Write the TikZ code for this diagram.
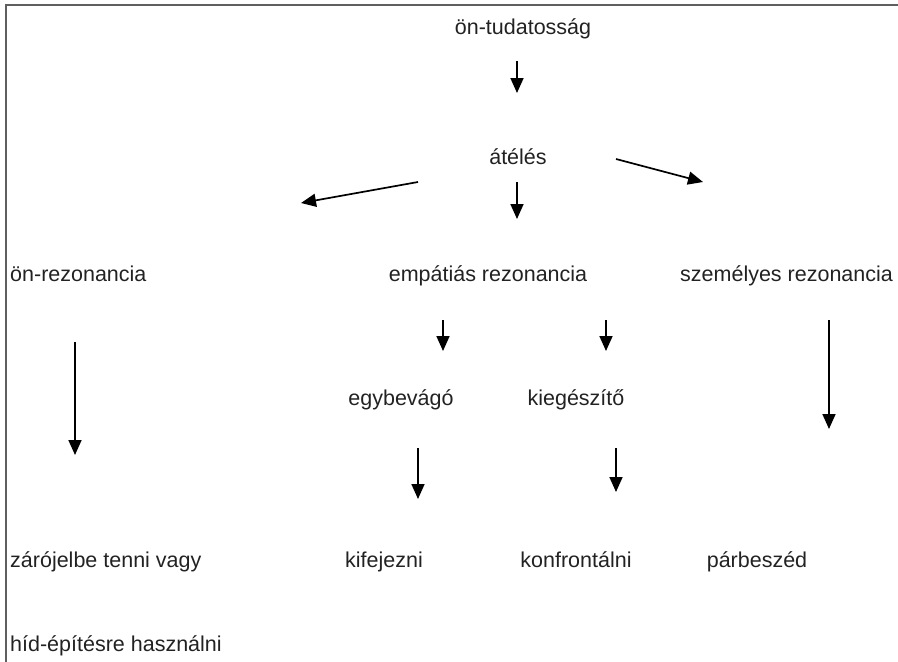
\documentclass[tikz,border=0pt]{standalone}
\usepackage{fontspec}
\setmainfont{Liberation Sans}
\usetikzlibrary{arrows.meta}
\definecolor{txt}{RGB}{34,34,34}
\definecolor{frame}{RGB}{95,95,95}
\begin{document}
\begin{tikzpicture}[x=1pt,y=-1pt,
  lbl/.style={anchor=base west,inner sep=0pt,text=txt,font=\fontsize{21.5}{25}\selectfont},
  clbl/.style={lbl,anchor=base},
  arr/.style={line width=1.7pt,-{Triangle[length=15pt,width=13pt]}}]
\useasboundingbox (0,0) rectangle (898,662);
\draw[frame,line width=1.6pt] (6,662) -- (6,5) -- (898,5);
% labels
\node[clbl] (a) at (523,34) {ön-tudatosság};
\node[clbl] (b) at (518,164) {átélés};
\node[lbl] (c) at (10,281) {ön-rezonancia};
\node[clbl] (d) at (488,281) {empátiás rezonancia};
\node[lbl] (e) at (680,281) {személyes rezonancia};
\node[clbl] (f) at (401,405) {egybevágó};
\node[clbl] (g) at (576,405) {kiegészítő};
\node[lbl] (h) at (10,567) {zárójelbe tenni vagy};
\node[clbl] (i) at (384,567) {kifejezni};
\node[clbl] (j) at (576,567) {konfrontálni};
\node[clbl] (k) at (757,567) {párbeszéd};
\node[lbl] (l) at (10,651) {híd-építésre használni};
% arrow endpoints
\coordinate (a1s) at (517,61);  \coordinate (a1e) at (517,93);
\coordinate (bLs) at (418,182); \coordinate (bLe) at (301,203);
\coordinate (bCs) at (517,182); \coordinate (bCe) at (517,219);
\coordinate (bRs) at (616,159); \coordinate (bRe) at (703,182);
\coordinate (cs) at (75,342);   \coordinate (ce) at (75,455);
\coordinate (dLs) at (443,320); \coordinate (dLe) at (443,351);
\coordinate (dRs) at (606,320); \coordinate (dRe) at (606,351);
\coordinate (es) at (829,320);  \coordinate (ee) at (829,429);
\coordinate (fs) at (418,448);  \coordinate (fe) at (418,499);
\coordinate (gs) at (616,448);  \coordinate (ge) at (616,492);
\draw[arr] (a1s) -- (a1e);
\draw[arr] (bLs) -- (bLe);
\draw[arr] (bCs) -- (bCe);
\draw[arr] (bRs) -- (bRe);
\draw[arr] (cs) -- (ce);
\draw[arr] (dLs) -- (dLe);
\draw[arr] (dRs) -- (dRe);
\draw[arr] (es) -- (ee);
\draw[arr] (fs) -- (fe);
\draw[arr] (gs) -- (ge);
\end{tikzpicture}
\end{document}
